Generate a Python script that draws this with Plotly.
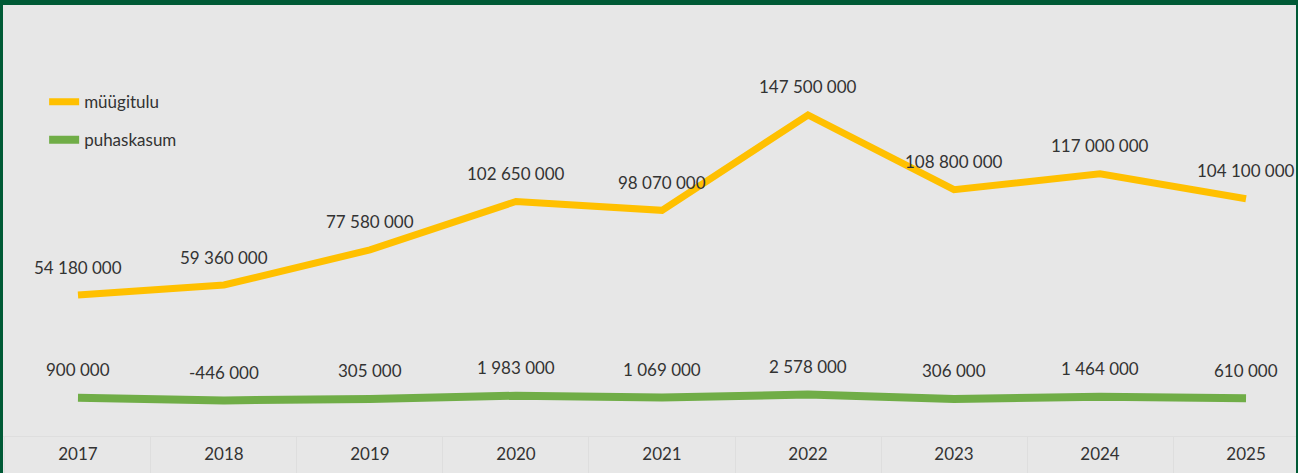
import plotly.graph_objects as go

years = ["2017", "2018", "2019", "2020", "2021", "2022", "2023", "2024", "2025"]
muugitulu = [54180000, 59360000, 77580000, 102650000, 98070000, 147500000, 108800000, 117000000, 104100000]
puhaskasum = [900000, -446000, 305000, 1983000, 1069000, 2578000, 306000, 1464000, 610000]

YELLOW = "#FFC000"
GREEN = "#70AD47"
BG = "#E7E7E7"
BORDER = "#005A36"
TXT = "#333333"
FONT = "Lato"

def fmt(v):
    return f"{v:,}".replace(",", " ")

fig = go.Figure()
fig.add_trace(go.Scatter(x=years, y=muugitulu, mode="lines", name="müügitulu",
                         line=dict(color=YELLOW, width=7), legendgroup="a"))
fig.add_trace(go.Scatter(x=years, y=puhaskasum, mode="lines", name="puhaskasum",
                         line=dict(color=GREEN, width=8), legendgroup="b"))

annotations = []
for series in (muugitulu, puhaskasum):
    for i, v in enumerate(series):
        annotations.append(dict(x=i, y=v, xref="x", yref="y", text=fmt(v), showarrow=False,
                                yshift=28, font=dict(family=FONT, size=17, color=TXT)))

shapes = [
    dict(type="rect", xref="paper", yref="paper", xsizemode="pixel", xanchor=0, x0=0, x1=3,
         y0=-0.2, y1=1.1, fillcolor=BORDER, line=dict(width=0), layer="above"),
    dict(type="rect", xref="paper", yref="paper", xsizemode="pixel", xanchor=1, x0=-2, x1=0,
         y0=-0.2, y1=1.1, fillcolor=BORDER, line=dict(width=0), layer="above"),
    dict(type="rect", xref="paper", yref="paper", ysizemode="pixel", yanchor=1, y0=-5, y1=0,
         x0=-0.1, x1=1.1, fillcolor=BORDER, line=dict(width=0), layer="above"),
]

fig.update_layout(
    width=1298, height=473,
    margin=dict(l=0, r=0, t=0, b=37),
    paper_bgcolor=BG, plot_bgcolor=BG,
    font=dict(family=FONT, color=TXT),
    showlegend=True,
    legend=dict(x=0.034, y=0.807, xanchor="left", yanchor="top", bgcolor="rgba(0,0,0,0)",
                font=dict(family=FONT, size=17, color=TXT), traceorder="grouped",
                tracegroupgap=13),
    annotations=annotations,
    shapes=shapes,
    xaxis=dict(type="category", range=[-0.534, 8.356], showgrid=False, zeroline=False,
               showline=True, linecolor="#DEDEDE", linewidth=1,
               ticks="outside", tickson="boundaries", ticklen=37, tickcolor="#DEDEDE",
               tickfont=dict(family=FONT, size=17, color=TXT), ticklabelstandoff=3),
    yaxis=dict(range=[-18.9e6, 207.1e6], visible=False, showgrid=False, zeroline=False),
)

fig.write_html("out.html", config={"displayModeBar": False})
with open("out.html", encoding="utf-8") as f:
    html = f.read()
html = html.replace("<body>", '<body style="margin:0;padding:0;overflow:hidden">', 1)
with open("out.html", "w", encoding="utf-8") as f:
    f.write(html)
